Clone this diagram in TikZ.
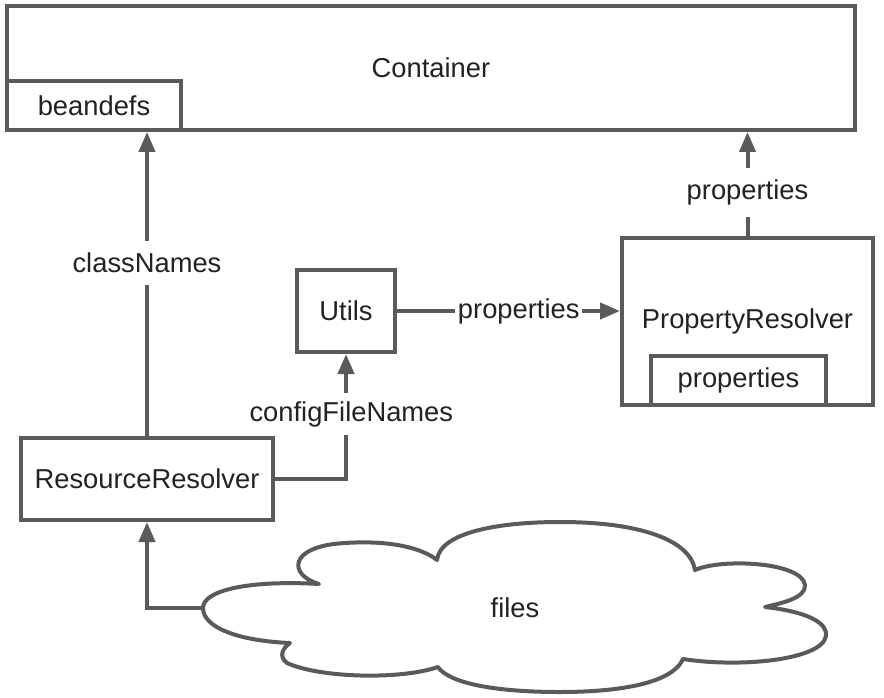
\documentclass[tikz,border=0pt]{standalone}
\usepackage{fontspec}
\setmainfont{Liberation Sans}
\usetikzlibrary{arrows.meta,positioning}
\definecolor{slate}{HTML}{5A5A5A}
\definecolor{ink}{HTML}{222222}

\begin{document}
\begin{tikzpicture}[x=0.75pt,y=-0.75pt,font=\fontsize{20.5}{24}\selectfont,text=ink,
  box/.style={draw=slate,line width=3pt,fill=white,inner sep=0pt},
  flow/.style={draw=slate,line width=3pt,-{Triangle[length=15pt,width=12pt]}},
  lbl/.style={fill=white,inner xsep=2pt,inner ysep=9pt}]
  \useasboundingbox (0,0) rectangle (884,698);
  \node[box,minimum width=636pt,minimum height=93pt] (c) at (431,68) {Container};
  \node[box,minimum width=130.5pt,minimum height=36.75pt,anchor=south west] (b) at (c.south west) {beandefs};
  \node[box,minimum width=73.5pt,minimum height=61.5pt] (u) at (346,311) {Utils};
  \node[box,minimum width=188.25pt,minimum height=125.25pt] (pr) at (747.5,321.5) {PropertyResolver};
  \node[box,minimum width=131.25pt,minimum height=36.75pt] (pp) at (738.5,380.5) {properties};
  \node[box,minimum width=189pt,minimum height=61.5pt] (rr) at (147,479) {ResourceResolver};
  % the cloud of files
  \draw[slate,line width=3pt,line join=round,fill=white] (290,643)
    .. controls (240,641) and (203,628) .. (203,608)
    .. controls (203,590) and (250,580) .. (319,584)
    .. controls (288,575) and (288,546) .. (345,543)
    .. controls (390,540) and (422,548) .. (437,560)
    .. controls (440,532) and (500,522) .. (560,522)
    .. controls (640,522) and (690,540) .. (695,570)
    .. controls (722,558) and (802,562) .. (805,585)
    .. controls (806,598) and (782,603) .. (765,607)
    .. controls (810,612) and (828,624) .. (826,636)
    .. controls (822,660) and (740,668) .. (683,659)
    .. controls (670,688) and (600,692) .. (560,692)
    .. controls (490,692) and (448,682) .. (438,667)
    .. controls (400,680) and (320,678) .. (287,663)
    .. controls (278,656) and (283,648) .. (290,643) -- cycle;
  \node (f) at (515,608) {files};
  \coordinate (cl) at (203,608);
  \draw[flow] (rr.north) -- (rr.north |- c.south) node[lbl,pos=0.57] (cn) {classNames};
  \draw[flow] (pr.north) -- (pr.north |- c.south) node[lbl,pos=0.42] (pl) {properties};
  \draw[flow] (u.east) -- (pr.west |- u.east) node[lbl,pos=0.546] (ul) {properties};
  \draw[flow] (rr.east) -| (u.south) node[lbl,inner ysep=6pt,pos=0.76,xshift=4pt] (fl) {configFileNames};
  \draw[flow] (cl) -| (rr.south);
\end{tikzpicture}
\end{document}
